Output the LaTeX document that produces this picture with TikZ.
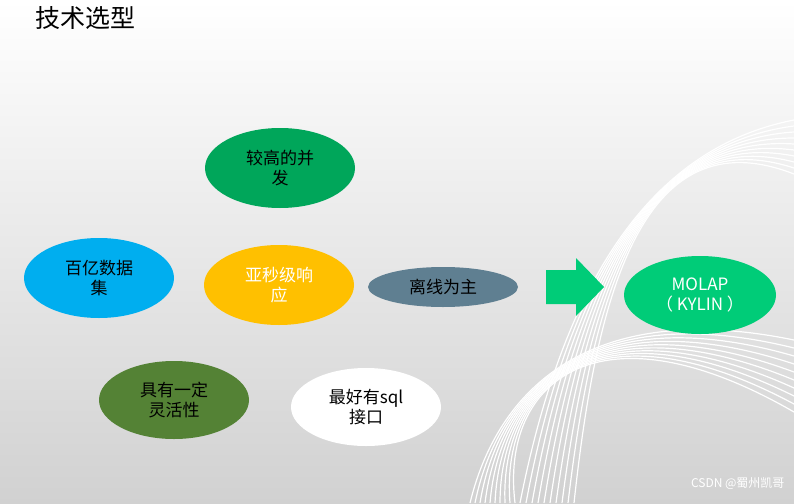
\documentclass[tikz,border=0pt]{standalone}
\usepackage{fontspec}
\setmainfont{Noto Sans CJK SC}
\usetikzlibrary{shapes.geometric}
\definecolor{cgreen}{RGB}{0,166,90}
\definecolor{cblue}{RGB}{0,174,239}
\definecolor{cyel}{RGB}{255,192,0}
\definecolor{cslate}{RGB}{95,127,145}
\definecolor{cmint}{RGB}{0,204,120}
\definecolor{colive}{RGB}{84,130,53}
\tikzset{x=1pt,y=-1pt,
 bub/.style={ellipse,minimum width=150pt,minimum height=80pt,inner sep=0pt,align=center,font=\fontsize{17}{20}\selectfont,text=black}}
\begin{document}
\begin{tikzpicture}
\shade[top color=white,bottom color=black!18] (0,0) rectangle (794,503);
\useasboundingbox (0,0) rectangle (794,503);
\foreach \i in {0,...,9}{
 \draw[white,line width=1.2pt] (520+6*\i,503) .. controls (560+4*\i,300) and (640,150-4*\i) .. (794,120+6*\i);
 \draw[white,line width=1.2pt] (470+5*\i,503) .. controls (500,380) and (600,300) .. (794,340+8*\i);
}
\node[anchor=west,font=\fontsize{25}{28}\selectfont] (t) at (32,18) {技术选型};
\node[bub,fill=cgreen] (a) at (280,168) {较高的并\\发};
\node[bub,fill=cblue] (b) at (99,278) {百亿数据\\集};
\node[bub,fill=cyel,text=white] (c) at (279,285) {亚秒级响\\应};
\node[bub,fill=cslate,minimum height=40pt] (d) at (443,287) {离线为主};
\node[bub,fill=cmint,minimum width=152pt,minimum height=78pt,text=white] (m) at (700,295) {MOLAP\\（ KYLIN ）};
\node[bub,fill=colive,minimum height=78pt] (e) at (174,400) {具有一定\\灵活性};
\node[bub,fill=white,minimum height=78pt] (f) at (366,407) {最好有sql\\接口};
\fill[cmint] (546,270) -- (576,270) -- (576,258) -- (604,287) -- (576,316) -- (576,304) -- (546,304) -- cycle;
\node[anchor=east,text=white,font=\fontsize{12}{14}\selectfont] (w) at (788,484) {CSDN @蜀州凯哥};
\end{tikzpicture}
\end{document}
